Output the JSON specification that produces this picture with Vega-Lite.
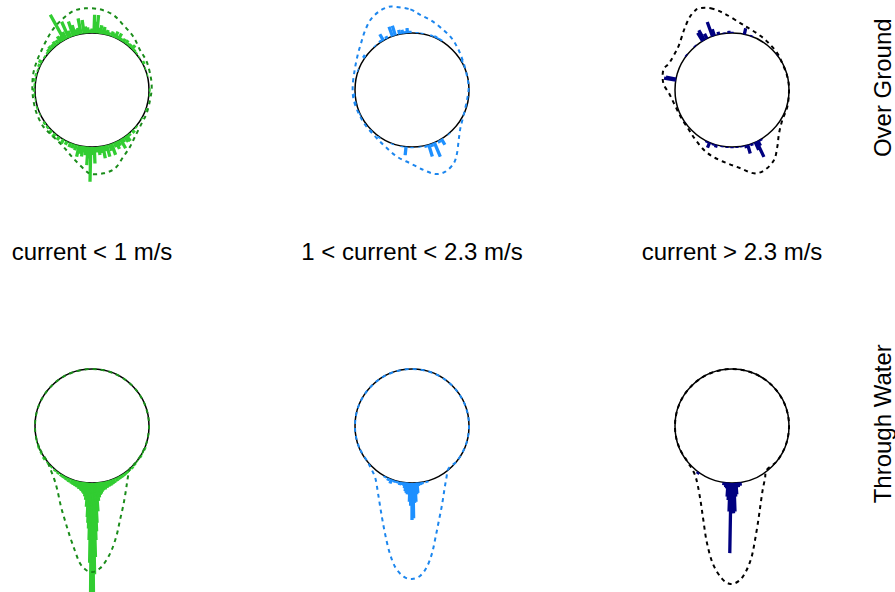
{
  "$schema": "https://vega.github.io/schema/vega-lite/v6.json",
  "padding": 0,
  "background": "white",
  "config": {"view": {"stroke": null}, "font": "Liberation Sans"},
  "data": {"values": [
    {"k":"c","m":"OG","c":"lo"},{"k":"c","m":"OG","c":"mid"},{"k":"c","m":"OG","c":"hi"},
    {"k":"c","m":"TW","c":"lo"},{"k":"c","m":"TW","c":"mid"},{"k":"c","m":"TW","c":"hi"},
    {"k":"t","m":"OG","c":"lo","txt":"current < 1 m/s"},
    {"k":"t","m":"OG","c":"mid","txt":"1 < current < 2.3 m/s"},
    {"k":"t","m":"OG","c":"hi","txt":"current > 2.3 m/s"},
    {"k":"v","m":"OG","c":"hi","txt":"Over Ground"},
    {"k":"v","m":"TW","c":"hi","txt":"Through Water"},

    {"k":"d","m":"OG","c":"lo","i":0,"x":-0.123,"y":1.433},
    {"k":"d","m":"OG","c":"lo","i":1,"x":0.140,"y":1.415},
    {"k":"d","m":"OG","c":"lo","i":2,"x":0.374,"y":1.316},
    {"k":"d","m":"OG","c":"lo","i":3,"x":0.550,"y":1.140},
    {"k":"d","m":"OG","c":"lo","i":4,"x":0.725,"y":0.936},
    {"k":"d","m":"OG","c":"lo","i":5,"x":0.842,"y":0.702},
    {"k":"d","m":"OG","c":"lo","i":6,"x":0.959,"y":0.497},
    {"k":"d","m":"OG","c":"lo","i":7,"x":1.029,"y":0.234},
    {"k":"d","m":"OG","c":"lo","i":8,"x":1.047,"y":0.029},
    {"k":"d","m":"OG","c":"lo","i":9,"x":1.018,"y":-0.175},
    {"k":"d","m":"OG","c":"lo","i":10,"x":0.959,"y":-0.409},
    {"k":"d","m":"OG","c":"lo","i":11,"x":0.871,"y":-0.585},
    {"k":"d","m":"OG","c":"lo","i":12,"x":0.754,"y":-0.819},
    {"k":"d","m":"OG","c":"lo","i":13,"x":0.667,"y":-0.994},
    {"k":"d","m":"OG","c":"lo","i":14,"x":0.550,"y":-1.170},
    {"k":"d","m":"OG","c":"lo","i":15,"x":0.404,"y":-1.374},
    {"k":"d","m":"OG","c":"lo","i":16,"x":0.199,"y":-1.462},
    {"k":"d","m":"OG","c":"lo","i":17,"x":-0.006,"y":-1.474},
    {"k":"d","m":"OG","c":"lo","i":18,"x":-0.123,"y":-1.404},
    {"k":"d","m":"OG","c":"lo","i":19,"x":-0.327,"y":-1.199},
    {"k":"d","m":"OG","c":"lo","i":20,"x":-0.503,"y":-0.994},
    {"k":"d","m":"OG","c":"lo","i":21,"x":-0.678,"y":-0.819},
    {"k":"d","m":"OG","c":"lo","i":22,"x":-0.854,"y":-0.643},
    {"k":"d","m":"OG","c":"lo","i":23,"x":-0.971,"y":-0.409},
    {"k":"d","m":"OG","c":"lo","i":24,"x":-1.029,"y":-0.175},
    {"k":"d","m":"OG","c":"lo","i":25,"x":-1.047,"y":0.058},
    {"k":"d","m":"OG","c":"lo","i":26,"x":-1.029,"y":0.292},
    {"k":"d","m":"OG","c":"lo","i":27,"x":-0.971,"y":0.497},
    {"k":"d","m":"OG","c":"lo","i":28,"x":-0.883,"y":0.702},
    {"k":"d","m":"OG","c":"lo","i":29,"x":-0.766,"y":0.936},
    {"k":"d","m":"OG","c":"lo","i":30,"x":-0.649,"y":1.111},
    {"k":"d","m":"OG","c":"lo","i":31,"x":-0.503,"y":1.257},
    {"k":"d","m":"OG","c":"lo","i":32,"x":-0.327,"y":1.386},

    {"k":"d","m":"OG","c":"mid","i":0,"x":-0.322,"y":1.462},
    {"k":"d","m":"OG","c":"mid","i":1,"x":-0.029,"y":1.415},
    {"k":"d","m":"OG","c":"mid","i":2,"x":0.146,"y":1.316},
    {"k":"d","m":"OG","c":"mid","i":3,"x":0.322,"y":1.228},
    {"k":"d","m":"OG","c":"mid","i":4,"x":0.497,"y":1.099},
    {"k":"d","m":"OG","c":"mid","i":5,"x":0.673,"y":0.936},
    {"k":"d","m":"OG","c":"mid","i":6,"x":0.789,"y":0.760},
    {"k":"d","m":"OG","c":"mid","i":7,"x":0.877,"y":0.556},
    {"k":"d","m":"OG","c":"mid","i":8,"x":0.947,"y":0.322},
    {"k":"d","m":"OG","c":"mid","i":9,"x":0.994,"y":0.058},
    {"k":"d","m":"OG","c":"mid","i":10,"x":0.965,"y":-0.175},
    {"k":"d","m":"OG","c":"mid","i":11,"x":0.906,"y":-0.439},
    {"k":"d","m":"OG","c":"mid","i":12,"x":0.848,"y":-0.673},
    {"k":"d","m":"OG","c":"mid","i":13,"x":0.819,"y":-0.877},
    {"k":"d","m":"OG","c":"mid","i":14,"x":0.789,"y":-1.111},
    {"k":"d","m":"OG","c":"mid","i":15,"x":0.731,"y":-1.287},
    {"k":"d","m":"OG","c":"mid","i":16,"x":0.585,"y":-1.433},
    {"k":"d","m":"OG","c":"mid","i":17,"x":0.409,"y":-1.474},
    {"k":"d","m":"OG","c":"mid","i":18,"x":0.205,"y":-1.404},
    {"k":"d","m":"OG","c":"mid","i":19,"x":-0.029,"y":-1.287},
    {"k":"d","m":"OG","c":"mid","i":20,"x":-0.263,"y":-1.170},
    {"k":"d","m":"OG","c":"mid","i":21,"x":-0.468,"y":-0.994},
    {"k":"d","m":"OG","c":"mid","i":22,"x":-0.643,"y":-0.819},
    {"k":"d","m":"OG","c":"mid","i":23,"x":-0.819,"y":-0.614},
    {"k":"d","m":"OG","c":"mid","i":24,"x":-0.936,"y":-0.409},
    {"k":"d","m":"OG","c":"mid","i":25,"x":-1.023,"y":-0.175},
    {"k":"d","m":"OG","c":"mid","i":26,"x":-1.041,"y":0.058},
    {"k":"d","m":"OG","c":"mid","i":27,"x":-1.006,"y":0.351},
    {"k":"d","m":"OG","c":"mid","i":28,"x":-0.953,"y":0.614},
    {"k":"d","m":"OG","c":"mid","i":29,"x":-0.895,"y":0.819},
    {"k":"d","m":"OG","c":"mid","i":30,"x":-0.830,"y":1.023},
    {"k":"d","m":"OG","c":"mid","i":31,"x":-0.731,"y":1.228},
    {"k":"d","m":"OG","c":"mid","i":32,"x":-0.585,"y":1.374},
    {"k":"d","m":"OG","c":"mid","i":33,"x":-0.439,"y":1.450},

    {"k":"d","m":"OG","c":"hi","i":0,"x":-0.579,"y":1.433},
    {"k":"d","m":"OG","c":"hi","i":1,"x":-0.374,"y":1.433},
    {"k":"d","m":"OG","c":"hi","i":2,"x":-0.140,"y":1.345},
    {"k":"d","m":"OG","c":"hi","i":3,"x":0.152,"y":1.170},
    {"k":"d","m":"OG","c":"hi","i":4,"x":0.327,"y":1.064},
    {"k":"d","m":"OG","c":"hi","i":5,"x":0.503,"y":0.947},
    {"k":"d","m":"OG","c":"hi","i":6,"x":0.649,"y":0.819},
    {"k":"d","m":"OG","c":"hi","i":7,"x":0.795,"y":0.643},
    {"k":"d","m":"OG","c":"hi","i":8,"x":0.883,"y":0.468},
    {"k":"d","m":"OG","c":"hi","i":9,"x":0.971,"y":0.234},
    {"k":"d","m":"OG","c":"hi","i":10,"x":1.000,"y":0.000},
    {"k":"d","m":"OG","c":"hi","i":11,"x":0.971,"y":-0.292},
    {"k":"d","m":"OG","c":"hi","i":12,"x":0.883,"y":-0.526},
    {"k":"d","m":"OG","c":"hi","i":13,"x":0.825,"y":-0.760},
    {"k":"d","m":"OG","c":"hi","i":14,"x":0.795,"y":-0.994},
    {"k":"d","m":"OG","c":"hi","i":15,"x":0.737,"y":-1.228},
    {"k":"d","m":"OG","c":"hi","i":16,"x":0.573,"y":-1.404},
    {"k":"d","m":"OG","c":"hi","i":17,"x":0.386,"y":-1.462},
    {"k":"d","m":"OG","c":"hi","i":18,"x":0.152,"y":-1.374},
    {"k":"d","m":"OG","c":"hi","i":19,"x":-0.082,"y":-1.287},
    {"k":"d","m":"OG","c":"hi","i":20,"x":-0.316,"y":-1.181},
    {"k":"d","m":"OG","c":"hi","i":21,"x":-0.491,"y":-1.053},
    {"k":"d","m":"OG","c":"hi","i":22,"x":-0.637,"y":-0.877},
    {"k":"d","m":"OG","c":"hi","i":23,"x":-0.754,"y":-0.702},
    {"k":"d","m":"OG","c":"hi","i":24,"x":-0.901,"y":-0.468},
    {"k":"d","m":"OG","c":"hi","i":25,"x":-1.018,"y":-0.234},
    {"k":"d","m":"OG","c":"hi","i":26,"x":-1.105,"y":-0.058},
    {"k":"d","m":"OG","c":"hi","i":27,"x":-1.205,"y":0.117},
    {"k":"d","m":"OG","c":"hi","i":28,"x":-1.205,"y":0.351},
    {"k":"d","m":"OG","c":"hi","i":29,"x":-1.105,"y":0.468},
    {"k":"d","m":"OG","c":"hi","i":30,"x":-1.018,"y":0.614},
    {"k":"d","m":"OG","c":"hi","i":31,"x":-0.930,"y":0.789},
    {"k":"d","m":"OG","c":"hi","i":32,"x":-0.842,"y":1.053},
    {"k":"d","m":"OG","c":"hi","i":33,"x":-0.754,"y":1.257},
    {"k":"d","m":"OG","c":"hi","i":34,"x":-0.667,"y":1.374},

    {"k":"d","m":"TW","c":"lo","i":0,"x":-0.788,"y":-0.616},
    {"k":"d","m":"TW","c":"lo","i":1,"x":-0.927,"y":-0.375},
    {"k":"d","m":"TW","c":"lo","i":2,"x":-0.995,"y":-0.105},
    {"k":"d","m":"TW","c":"lo","i":3,"x":-0.985,"y":0.174},
    {"k":"d","m":"TW","c":"lo","i":4,"x":-0.899,"y":0.438},
    {"k":"d","m":"TW","c":"lo","i":5,"x":-0.743,"y":0.669},
    {"k":"d","m":"TW","c":"lo","i":6,"x":-0.530,"y":0.848},
    {"k":"d","m":"TW","c":"lo","i":7,"x":-0.276,"y":0.961},
    {"k":"d","m":"TW","c":"lo","i":8,"x":0.000,"y":1.000},
    {"k":"d","m":"TW","c":"lo","i":9,"x":0.276,"y":0.961},
    {"k":"d","m":"TW","c":"lo","i":10,"x":0.530,"y":0.848},
    {"k":"d","m":"TW","c":"lo","i":11,"x":0.743,"y":0.669},
    {"k":"d","m":"TW","c":"lo","i":12,"x":0.899,"y":0.438},
    {"k":"d","m":"TW","c":"lo","i":13,"x":0.985,"y":0.174},
    {"k":"d","m":"TW","c":"lo","i":14,"x":0.995,"y":-0.105},
    {"k":"d","m":"TW","c":"lo","i":15,"x":0.927,"y":-0.375},
    {"k":"d","m":"TW","c":"lo","i":16,"x":0.788,"y":-0.616},
    {"k":"d","m":"TW","c":"lo","i":17,"x":0.667,"y":-0.743},
    {"k":"d","m":"TW","c":"lo","i":18,"x":0.626,"y":-0.918},
    {"k":"d","m":"TW","c":"lo","i":19,"x":0.596,"y":-1.123},
    {"k":"d","m":"TW","c":"lo","i":20,"x":0.550,"y":-1.386},
    {"k":"d","m":"TW","c":"lo","i":21,"x":0.491,"y":-1.649},
    {"k":"d","m":"TW","c":"lo","i":22,"x":0.433,"y":-1.912},
    {"k":"d","m":"TW","c":"lo","i":23,"x":0.345,"y":-2.175},
    {"k":"d","m":"TW","c":"lo","i":24,"x":0.246,"y":-2.363},
    {"k":"d","m":"TW","c":"lo","i":25,"x":0.140,"y":-2.497},
    {"k":"d","m":"TW","c":"lo","i":26,"x":0.012,"y":-2.561},
    {"k":"d","m":"TW","c":"lo","i":27,"x":-0.105,"y":-2.526},
    {"k":"d","m":"TW","c":"lo","i":28,"x":-0.211,"y":-2.409},
    {"k":"d","m":"TW","c":"lo","i":29,"x":-0.298,"y":-2.193},
    {"k":"d","m":"TW","c":"lo","i":30,"x":-0.386,"y":-1.942},
    {"k":"d","m":"TW","c":"lo","i":31,"x":-0.468,"y":-1.678},
    {"k":"d","m":"TW","c":"lo","i":32,"x":-0.544,"y":-1.415},
    {"k":"d","m":"TW","c":"lo","i":33,"x":-0.608,"y":-1.123},
    {"k":"d","m":"TW","c":"lo","i":34,"x":-0.667,"y":-0.918},
    {"k":"d","m":"TW","c":"lo","i":35,"x":-0.737,"y":-0.743},

    {"k":"d","m":"TW","c":"mid","i":0,"x":-0.788,"y":-0.616},
    {"k":"d","m":"TW","c":"mid","i":1,"x":-0.927,"y":-0.375},
    {"k":"d","m":"TW","c":"mid","i":2,"x":-0.995,"y":-0.105},
    {"k":"d","m":"TW","c":"mid","i":3,"x":-0.985,"y":0.174},
    {"k":"d","m":"TW","c":"mid","i":4,"x":-0.899,"y":0.438},
    {"k":"d","m":"TW","c":"mid","i":5,"x":-0.743,"y":0.669},
    {"k":"d","m":"TW","c":"mid","i":6,"x":-0.530,"y":0.848},
    {"k":"d","m":"TW","c":"mid","i":7,"x":-0.276,"y":0.961},
    {"k":"d","m":"TW","c":"mid","i":8,"x":0.000,"y":1.000},
    {"k":"d","m":"TW","c":"mid","i":9,"x":0.276,"y":0.961},
    {"k":"d","m":"TW","c":"mid","i":10,"x":0.530,"y":0.848},
    {"k":"d","m":"TW","c":"mid","i":11,"x":0.743,"y":0.669},
    {"k":"d","m":"TW","c":"mid","i":12,"x":0.899,"y":0.438},
    {"k":"d","m":"TW","c":"mid","i":13,"x":0.985,"y":0.174},
    {"k":"d","m":"TW","c":"mid","i":14,"x":0.995,"y":-0.105},
    {"k":"d","m":"TW","c":"mid","i":15,"x":0.927,"y":-0.375},
    {"k":"d","m":"TW","c":"mid","i":16,"x":0.788,"y":-0.616},
    {"k":"d","m":"TW","c":"mid","i":17,"x":0.643,"y":-0.743},
    {"k":"d","m":"TW","c":"mid","i":18,"x":0.602,"y":-0.918},
    {"k":"d","m":"TW","c":"mid","i":19,"x":0.567,"y":-1.123},
    {"k":"d","m":"TW","c":"mid","i":20,"x":0.526,"y":-1.386},
    {"k":"d","m":"TW","c":"mid","i":21,"x":0.468,"y":-1.678},
    {"k":"d","m":"TW","c":"mid","i":22,"x":0.409,"y":-1.971},
    {"k":"d","m":"TW","c":"mid","i":23,"x":0.351,"y":-2.234},
    {"k":"d","m":"TW","c":"mid","i":24,"x":0.263,"y":-2.468},
    {"k":"d","m":"TW","c":"mid","i":25,"x":0.146,"y":-2.626},
    {"k":"d","m":"TW","c":"mid","i":26,"x":0.000,"y":-2.684},
    {"k":"d","m":"TW","c":"mid","i":27,"x":-0.146,"y":-2.643},
    {"k":"d","m":"TW","c":"mid","i":28,"x":-0.292,"y":-2.480},
    {"k":"d","m":"TW","c":"mid","i":29,"x":-0.398,"y":-2.205},
    {"k":"d","m":"TW","c":"mid","i":30,"x":-0.480,"y":-1.854},
    {"k":"d","m":"TW","c":"mid","i":31,"x":-0.544,"y":-1.503},
    {"k":"d","m":"TW","c":"mid","i":32,"x":-0.596,"y":-1.181},
    {"k":"d","m":"TW","c":"mid","i":33,"x":-0.643,"y":-0.918},
    {"k":"d","m":"TW","c":"mid","i":34,"x":-0.719,"y":-0.743},

    {"k":"d","m":"TW","c":"hi","i":0,"x":-0.788,"y":-0.616},
    {"k":"d","m":"TW","c":"hi","i":1,"x":-0.927,"y":-0.375},
    {"k":"d","m":"TW","c":"hi","i":2,"x":-0.995,"y":-0.105},
    {"k":"d","m":"TW","c":"hi","i":3,"x":-0.985,"y":0.174},
    {"k":"d","m":"TW","c":"hi","i":4,"x":-0.899,"y":0.438},
    {"k":"d","m":"TW","c":"hi","i":5,"x":-0.743,"y":0.669},
    {"k":"d","m":"TW","c":"hi","i":6,"x":-0.530,"y":0.848},
    {"k":"d","m":"TW","c":"hi","i":7,"x":-0.276,"y":0.961},
    {"k":"d","m":"TW","c":"hi","i":8,"x":0.000,"y":1.000},
    {"k":"d","m":"TW","c":"hi","i":9,"x":0.276,"y":0.961},
    {"k":"d","m":"TW","c":"hi","i":10,"x":0.530,"y":0.848},
    {"k":"d","m":"TW","c":"hi","i":11,"x":0.743,"y":0.669},
    {"k":"d","m":"TW","c":"hi","i":12,"x":0.899,"y":0.438},
    {"k":"d","m":"TW","c":"hi","i":13,"x":0.985,"y":0.174},
    {"k":"d","m":"TW","c":"hi","i":14,"x":0.995,"y":-0.105},
    {"k":"d","m":"TW","c":"hi","i":15,"x":0.927,"y":-0.375},
    {"k":"d","m":"TW","c":"hi","i":16,"x":0.788,"y":-0.616},
    {"k":"d","m":"TW","c":"hi","i":17,"x":0.608,"y":-0.772},
    {"k":"d","m":"TW","c":"hi","i":18,"x":0.579,"y":-0.918},
    {"k":"d","m":"TW","c":"hi","i":19,"x":0.538,"y":-1.123},
    {"k":"d","m":"TW","c":"hi","i":20,"x":0.503,"y":-1.357},
    {"k":"d","m":"TW","c":"hi","i":21,"x":0.462,"y":-1.649},
    {"k":"d","m":"TW","c":"hi","i":22,"x":0.404,"y":-2.000},
    {"k":"d","m":"TW","c":"hi","i":23,"x":0.345,"y":-2.292},
    {"k":"d","m":"TW","c":"hi","i":24,"x":0.257,"y":-2.526},
    {"k":"d","m":"TW","c":"hi","i":25,"x":0.140,"y":-2.702},
    {"k":"d","m":"TW","c":"hi","i":26,"x":-0.023,"y":-2.772},
    {"k":"d","m":"TW","c":"hi","i":27,"x":-0.181,"y":-2.673},
    {"k":"d","m":"TW","c":"hi","i":28,"x":-0.339,"y":-2.409},
    {"k":"d","m":"TW","c":"hi","i":29,"x":-0.444,"y":-2.029},
    {"k":"d","m":"TW","c":"hi","i":30,"x":-0.503,"y":-1.649},
    {"k":"d","m":"TW","c":"hi","i":31,"x":-0.550,"y":-1.327},
    {"k":"d","m":"TW","c":"hi","i":32,"x":-0.602,"y":-1.035},
    {"k":"d","m":"TW","c":"hi","i":33,"x":-0.649,"y":-0.860},
    {"k":"d","m":"TW","c":"hi","i":34,"x":-0.708,"y":-0.743},

    {"k":"s","m":"OG","c":"lo","a":-130,"r":1.03},{"k":"s","m":"OG","c":"lo","a":-125,"r":1.04},
    {"k":"s","m":"OG","c":"lo","a":-115,"r":1.02},{"k":"s","m":"OG","c":"lo","a":-108,"r":1.03},
    {"k":"s","m":"OG","c":"lo","a":-100,"r":1.02},{"k":"s","m":"OG","c":"lo","a":-95,"r":1.03},
    {"k":"s","m":"OG","c":"lo","a":-90,"r":1.04},{"k":"s","m":"OG","c":"lo","a":-85,"r":1.03},
    {"k":"s","m":"OG","c":"lo","a":-80,"r":1.06},{"k":"s","m":"OG","c":"lo","a":-75,"r":1.04},
    {"k":"s","m":"OG","c":"lo","a":-70,"r":1.03},{"k":"s","m":"OG","c":"lo","a":-65,"r":1.05},
    {"k":"s","m":"OG","c":"lo","a":-61,"r":1.07},{"k":"s","m":"OG","c":"lo","a":-55,"r":1.03},
    {"k":"s","m":"OG","c":"lo","a":-50,"r":1.04},{"k":"s","m":"OG","c":"lo","a":-48,"r":1.06},
    {"k":"s","m":"OG","c":"lo","a":-45,"r":1.08},{"k":"s","m":"OG","c":"lo","a":-42,"r":1.07},
    {"k":"s","m":"OG","c":"lo","a":-39,"r":1.09},{"k":"s","m":"OG","c":"lo","a":-36,"r":1.08},
    {"k":"s","m":"OG","c":"lo","a":-33,"r":1.12},{"k":"s","m":"OG","c":"lo","a":-31,"r":1.10},
    {"k":"s","m":"OG","c":"lo","a":-29,"r":1.51},{"k":"s","m":"OG","c":"lo","a":-27,"r":1.14},
    {"k":"s","m":"OG","c":"lo","a":-24,"r":1.31},{"k":"s","m":"OG","c":"lo","a":-22,"r":1.12},
    {"k":"s","m":"OG","c":"lo","a":-19,"r":1.27},{"k":"s","m":"OG","c":"lo","a":-17,"r":1.19},
    {"k":"s","m":"OG","c":"lo","a":-15,"r":1.10},{"k":"s","m":"OG","c":"lo","a":-13,"r":1.12},
    {"k":"s","m":"OG","c":"lo","a":-11,"r":1.28},{"k":"s","m":"OG","c":"lo","a":-8,"r":1.24},
    {"k":"s","m":"OG","c":"lo","a":-6,"r":1.12},{"k":"s","m":"OG","c":"lo","a":-4,"r":1.10},
    {"k":"s","m":"OG","c":"lo","a":-2,"r":1.06},{"k":"s","m":"OG","c":"lo","a":0,"r":1.08},
    {"k":"s","m":"OG","c":"lo","a":2,"r":1.32},{"k":"s","m":"OG","c":"lo","a":3.5,"r":1.20},
    {"k":"s","m":"OG","c":"lo","a":5,"r":1.32},{"k":"s","m":"OG","c":"lo","a":7,"r":1.10},
    {"k":"s","m":"OG","c":"lo","a":8.5,"r":1.15},{"k":"s","m":"OG","c":"lo","a":10,"r":1.08},
    {"k":"s","m":"OG","c":"lo","a":11.6,"r":1.13},{"k":"s","m":"OG","c":"lo","a":13,"r":1.07},
    {"k":"s","m":"OG","c":"lo","a":15,"r":1.09},{"k":"s","m":"OG","c":"lo","a":17,"r":1.06},
    {"k":"s","m":"OG","c":"lo","a":20,"r":1.09},{"k":"s","m":"OG","c":"lo","a":22,"r":1.07},
    {"k":"s","m":"OG","c":"lo","a":24,"r":1.12},{"k":"s","m":"OG","c":"lo","a":26,"r":1.06},
    {"k":"s","m":"OG","c":"lo","a":27.6,"r":1.12},{"k":"s","m":"OG","c":"lo","a":30,"r":1.05},
    {"k":"s","m":"OG","c":"lo","a":33,"r":1.07},{"k":"s","m":"OG","c":"lo","a":36,"r":1.08},
    {"k":"s","m":"OG","c":"lo","a":39,"r":1.05},{"k":"s","m":"OG","c":"lo","a":41,"r":1.06},
    {"k":"s","m":"OG","c":"lo","a":44,"r":1.09},{"k":"s","m":"OG","c":"lo","a":47,"r":1.04},
    {"k":"s","m":"OG","c":"lo","a":50,"r":1.03},{"k":"s","m":"OG","c":"lo","a":55,"r":1.02},
    {"k":"s","m":"OG","c":"lo","a":62,"r":1.05},{"k":"s","m":"OG","c":"lo","a":68,"r":1.02},
    {"k":"s","m":"OG","c":"lo","a":75,"r":1.02},{"k":"s","m":"OG","c":"lo","a":90,"r":1.03},
    {"k":"s","m":"OG","c":"lo","a":95,"r":1.02},{"k":"s","m":"OG","c":"lo","a":110,"r":1.03},
    {"k":"s","m":"OG","c":"lo","a":120,"r":1.02},{"k":"s","m":"OG","c":"lo","a":130,"r":1.03},
    {"k":"s","m":"OG","c":"lo","a":135,"r":1.06},{"k":"s","m":"OG","c":"lo","a":140,"r":1.05},
    {"k":"s","m":"OG","c":"lo","a":143,"r":1.12},{"k":"s","m":"OG","c":"lo","a":145,"r":1.11},
    {"k":"s","m":"OG","c":"lo","a":148,"r":1.08},{"k":"s","m":"OG","c":"lo","a":150,"r":1.18},
    {"k":"s","m":"OG","c":"lo","a":153,"r":1.10},{"k":"s","m":"OG","c":"lo","a":155,"r":1.14},
    {"k":"s","m":"OG","c":"lo","a":157,"r":1.09},{"k":"s","m":"OG","c":"lo","a":160,"r":1.21},
    {"k":"s","m":"OG","c":"lo","a":162,"r":1.12},{"k":"s","m":"OG","c":"lo","a":165,"r":1.21},
    {"k":"s","m":"OG","c":"lo","a":167,"r":1.10},{"k":"s","m":"OG","c":"lo","a":169,"r":1.22},
    {"k":"s","m":"OG","c":"lo","a":171,"r":1.12},{"k":"s","m":"OG","c":"lo","a":173,"r":1.15},
    {"k":"s","m":"OG","c":"lo","a":175,"r":1.10},{"k":"s","m":"OG","c":"lo","a":177.7,"r":1.29},
    {"k":"s","m":"OG","c":"lo","a":179,"r":1.14},{"k":"s","m":"OG","c":"lo","a":181.25,"r":1.61},
    {"k":"s","m":"OG","c":"lo","a":183,"r":1.20},{"k":"s","m":"OG","c":"lo","a":184,"r":1.32},
    {"k":"s","m":"OG","c":"lo","a":186,"r":1.15},{"k":"s","m":"OG","c":"lo","a":187.5,"r":1.10},
    {"k":"s","m":"OG","c":"lo","a":189,"r":1.18},{"k":"s","m":"OG","c":"lo","a":191,"r":1.14},
    {"k":"s","m":"OG","c":"lo","a":193,"r":1.20},{"k":"s","m":"OG","c":"lo","a":196,"r":1.10},
    {"k":"s","m":"OG","c":"lo","a":199,"r":1.08},{"k":"s","m":"OG","c":"lo","a":202,"r":1.08},
    {"k":"s","m":"OG","c":"lo","a":206,"r":1.07},{"k":"s","m":"OG","c":"lo","a":210,"r":1.08},
    {"k":"s","m":"OG","c":"lo","a":215,"r":1.07},{"k":"s","m":"OG","c":"lo","a":220,"r":1.08},
    {"k":"s","m":"OG","c":"lo","a":225,"r":1.06},{"k":"s","m":"OG","c":"lo","a":230,"r":1.04},
    {"k":"s","m":"OG","c":"lo","a":235,"r":1.03},

    {"k":"s","m":"OG","c":"mid","a":-115,"r":1.02},{"k":"s","m":"OG","c":"mid","a":-103,"r":1.04},
    {"k":"s","m":"OG","c":"mid","a":-95,"r":1.03},{"k":"s","m":"OG","c":"mid","a":-70,"r":1.02},
    {"k":"s","m":"OG","c":"mid","a":-55,"r":1.05},{"k":"s","m":"OG","c":"mid","a":-40,"r":1.02},
    {"k":"s","m":"OG","c":"mid","a":-33,"r":1.04},{"k":"s","m":"OG","c":"mid","a":-30,"r":1.13},
    {"k":"s","m":"OG","c":"mid","a":-26,"r":1.05},{"k":"s","m":"OG","c":"mid","a":-20,"r":1.18},
    {"k":"s","m":"OG","c":"mid","a":-17,"r":1.18},{"k":"s","m":"OG","c":"mid","a":-12.5,"r":1.08},
    {"k":"s","m":"OG","c":"mid","a":-9.5,"r":1.07},{"k":"s","m":"OG","c":"mid","a":-7,"r":1.04},
    {"k":"s","m":"OG","c":"mid","a":-4.6,"r":1.09},{"k":"s","m":"OG","c":"mid","a":-2,"r":1.04},
    {"k":"s","m":"OG","c":"mid","a":5,"r":1.02},{"k":"s","m":"OG","c":"mid","a":10,"r":1.02},
    {"k":"s","m":"OG","c":"mid","a":20,"r":1.03},{"k":"s","m":"OG","c":"mid","a":24,"r":1.04},
    {"k":"s","m":"OG","c":"mid","a":27,"r":1.03},{"k":"s","m":"OG","c":"mid","a":30,"r":1.03},
    {"k":"s","m":"OG","c":"mid","a":60,"r":1.03},{"k":"s","m":"OG","c":"mid","a":140,"r":1.02},
    {"k":"s","m":"OG","c":"mid","a":149,"r":1.12},{"k":"s","m":"OG","c":"mid","a":152,"r":1.05},
    {"k":"s","m":"OG","c":"mid","a":157,"r":1.27},{"k":"s","m":"OG","c":"mid","a":160,"r":1.06},
    {"k":"s","m":"OG","c":"mid","a":163,"r":1.22},{"k":"s","m":"OG","c":"mid","a":166,"r":1.04},
    {"k":"s","m":"OG","c":"mid","a":172,"r":1.02},{"k":"s","m":"OG","c":"mid","a":180,"r":1.02},
    {"k":"s","m":"OG","c":"mid","a":186,"r":1.15},{"k":"s","m":"OG","c":"mid","a":190,"r":1.02},
    {"k":"s","m":"OG","c":"mid","a":200,"r":1.02},{"k":"s","m":"OG","c":"mid","a":215,"r":1.03},
    {"k":"s","m":"OG","c":"mid","a":225,"r":1.02},

    {"k":"s","m":"OG","c":"hi","a":-80,"r":1.21},{"k":"s","m":"OG","c":"hi","a":-79,"r":1.18},
    {"k":"s","m":"OG","c":"hi","a":-53,"r":1.02},{"k":"s","m":"OG","c":"hi","a":-40,"r":1.02},
    {"k":"s","m":"OG","c":"hi","a":-31,"r":1.17},{"k":"s","m":"OG","c":"hi","a":-29,"r":1.20},
    {"k":"s","m":"OG","c":"hi","a":-26,"r":1.10},{"k":"s","m":"OG","c":"hi","a":-20,"r":1.27},
    {"k":"s","m":"OG","c":"hi","a":-18,"r":1.12},{"k":"s","m":"OG","c":"hi","a":-13.5,"r":1.05},
    {"k":"s","m":"OG","c":"hi","a":-8,"r":1.02},{"k":"s","m":"OG","c":"hi","a":-3,"r":1.04},
    {"k":"s","m":"OG","c":"hi","a":0,"r":1.02},{"k":"s","m":"OG","c":"hi","a":12.5,"r":1.11},
    {"k":"s","m":"OG","c":"hi","a":20,"r":1.02},{"k":"s","m":"OG","c":"hi","a":52,"r":1.02},
    {"k":"s","m":"OG","c":"hi","a":150,"r":1.03},{"k":"s","m":"OG","c":"hi","a":153,"r":1.10},
    {"k":"s","m":"OG","c":"hi","a":154.5,"r":1.30},{"k":"s","m":"OG","c":"hi","a":156,"r":1.15},
    {"k":"s","m":"OG","c":"hi","a":160,"r":1.04},{"k":"s","m":"OG","c":"hi","a":164,"r":1.16},
    {"k":"s","m":"OG","c":"hi","a":166,"r":1.05},{"k":"s","m":"OG","c":"hi","a":170,"r":1.02},
    {"k":"s","m":"OG","c":"hi","a":175,"r":1.02},{"k":"s","m":"OG","c":"hi","a":180,"r":1.02},
    {"k":"s","m":"OG","c":"hi","a":185,"r":1.02},{"k":"s","m":"OG","c":"hi","a":190,"r":1.02},
    {"k":"s","m":"OG","c":"hi","a":196,"r":1.05},{"k":"s","m":"OG","c":"hi","a":199,"r":1.03},
    {"k":"s","m":"OG","c":"hi","a":203,"r":1.10},{"k":"s","m":"OG","c":"hi","a":206,"r":1.03},
    {"k":"s","m":"OG","c":"hi","a":235,"r":1.02},

    {"k":"s","m":"TW","c":"lo","a":113,"r":1.03},{"k":"s","m":"TW","c":"lo","a":118,"r":1.02},
    {"k":"s","m":"TW","c":"lo","a":122,"r":1.03},{"k":"s","m":"TW","c":"lo","a":128,"r":1.02},
    {"k":"s","m":"TW","c":"lo","a":132,"r":1.03},{"k":"s","m":"TW","c":"lo","a":136,"r":1.04},
    {"k":"s","m":"TW","c":"lo","a":140,"r":1.035},{"k":"s","m":"TW","c":"lo","a":143,"r":1.045},
    {"k":"s","m":"TW","c":"lo","a":146,"r":1.05},{"k":"s","m":"TW","c":"lo","a":149,"r":1.055},
    {"k":"s","m":"TW","c":"lo","a":152,"r":1.06},{"k":"s","m":"TW","c":"lo","a":155,"r":1.07},
    {"k":"s","m":"TW","c":"lo","a":158,"r":1.08},{"k":"s","m":"TW","c":"lo","a":160,"r":1.09},
    {"k":"s","m":"TW","c":"lo","a":162,"r":1.10},{"k":"s","m":"TW","c":"lo","a":164,"r":1.11},
    {"k":"s","m":"TW","c":"lo","a":166,"r":1.12},{"k":"s","m":"TW","c":"lo","a":168,"r":1.14},
    {"k":"s","m":"TW","c":"lo","a":170,"r":1.15},{"k":"s","m":"TW","c":"lo","a":171,"r":1.17},
    {"k":"s","m":"TW","c":"lo","a":172,"r":1.20},{"k":"s","m":"TW","c":"lo","a":173,"r":1.22},
    {"k":"s","m":"TW","c":"lo","a":174,"r":1.26},{"k":"s","m":"TW","c":"lo","a":175,"r":1.32},
    {"k":"s","m":"TW","c":"lo","a":176,"r":1.50},{"k":"s","m":"TW","c":"lo","a":177,"r":1.70},
    {"k":"s","m":"TW","c":"lo","a":177.5,"r":1.85},{"k":"s","m":"TW","c":"lo","a":178,"r":2.00},
    {"k":"s","m":"TW","c":"lo","a":178.5,"r":2.30},{"k":"s","m":"TW","c":"lo","a":179,"r":2.60},
    {"k":"s","m":"TW","c":"lo","a":179.5,"r":3.40},{"k":"s","m":"TW","c":"lo","a":180,"r":3.40},
    {"k":"s","m":"TW","c":"lo","a":180.5,"r":3.40},{"k":"s","m":"TW","c":"lo","a":181,"r":2.40},
    {"k":"s","m":"TW","c":"lo","a":181.5,"r":2.00},{"k":"s","m":"TW","c":"lo","a":182,"r":1.80},
    {"k":"s","m":"TW","c":"lo","a":182.5,"r":1.70},{"k":"s","m":"TW","c":"lo","a":183,"r":1.60},
    {"k":"s","m":"TW","c":"lo","a":184,"r":1.42},{"k":"s","m":"TW","c":"lo","a":185,"r":1.30},
    {"k":"s","m":"TW","c":"lo","a":186,"r":1.24},{"k":"s","m":"TW","c":"lo","a":187,"r":1.20},
    {"k":"s","m":"TW","c":"lo","a":188,"r":1.18},{"k":"s","m":"TW","c":"lo","a":189,"r":1.16},
    {"k":"s","m":"TW","c":"lo","a":190,"r":1.15},{"k":"s","m":"TW","c":"lo","a":192,"r":1.13},
    {"k":"s","m":"TW","c":"lo","a":194,"r":1.11},{"k":"s","m":"TW","c":"lo","a":196,"r":1.10},
    {"k":"s","m":"TW","c":"lo","a":198,"r":1.09},{"k":"s","m":"TW","c":"lo","a":200,"r":1.08},
    {"k":"s","m":"TW","c":"lo","a":203,"r":1.07},{"k":"s","m":"TW","c":"lo","a":206,"r":1.06},
    {"k":"s","m":"TW","c":"lo","a":209,"r":1.05},{"k":"s","m":"TW","c":"lo","a":212,"r":1.045},
    {"k":"s","m":"TW","c":"lo","a":216,"r":1.04},{"k":"s","m":"TW","c":"lo","a":220,"r":1.035},
    {"k":"s","m":"TW","c":"lo","a":225,"r":1.03},{"k":"s","m":"TW","c":"lo","a":230,"r":1.03},
    {"k":"s","m":"TW","c":"lo","a":236,"r":1.04},{"k":"s","m":"TW","c":"lo","a":242,"r":1.03},
    {"k":"s","m":"TW","c":"lo","a":248,"r":1.03},{"k":"s","m":"TW","c":"lo","a":255,"r":1.02},

    {"k":"s","m":"TW","c":"mid","a":165,"r":1.03},{"k":"s","m":"TW","c":"mid","a":170,"r":1.04},
    {"k":"s","m":"TW","c":"mid","a":172,"r":1.05},{"k":"s","m":"TW","c":"mid","a":174,"r":1.06},
    {"k":"s","m":"TW","c":"mid","a":175,"r":1.18},{"k":"s","m":"TW","c":"mid","a":176,"r":1.20},
    {"k":"s","m":"TW","c":"mid","a":177,"r":1.33},{"k":"s","m":"TW","c":"mid","a":178,"r":1.35},
    {"k":"s","m":"TW","c":"mid","a":179,"r":1.62},{"k":"s","m":"TW","c":"mid","a":180,"r":1.65},
    {"k":"s","m":"TW","c":"mid","a":181,"r":1.40},{"k":"s","m":"TW","c":"mid","a":182,"r":1.33},
    {"k":"s","m":"TW","c":"mid","a":183,"r":1.20},{"k":"s","m":"TW","c":"mid","a":184,"r":1.20},
    {"k":"s","m":"TW","c":"mid","a":185,"r":1.18},{"k":"s","m":"TW","c":"mid","a":186,"r":1.15},
    {"k":"s","m":"TW","c":"mid","a":187,"r":1.10},{"k":"s","m":"TW","c":"mid","a":188,"r":1.06},
    {"k":"s","m":"TW","c":"mid","a":190,"r":1.05},{"k":"s","m":"TW","c":"mid","a":192,"r":1.06},
    {"k":"s","m":"TW","c":"mid","a":195,"r":1.04},{"k":"s","m":"TW","c":"mid","a":198,"r":1.04},
    {"k":"s","m":"TW","c":"mid","a":201,"r":1.08},{"k":"s","m":"TW","c":"mid","a":204,"r":1.05},
    {"k":"s","m":"TW","c":"mid","a":208,"r":1.03},

    {"k":"s","m":"TW","c":"hi","a":172,"r":1.06},{"k":"s","m":"TW","c":"hi","a":174,"r":1.08},
    {"k":"s","m":"TW","c":"hi","a":176,"r":1.20},{"k":"s","m":"TW","c":"hi","a":177,"r":1.24},
    {"k":"s","m":"TW","c":"hi","a":178,"r":1.50},{"k":"s","m":"TW","c":"hi","a":179,"r":1.53},
    {"k":"s","m":"TW","c":"hi","a":180,"r":1.53},{"k":"s","m":"TW","c":"hi","a":181,"r":2.23},
    {"k":"s","m":"TW","c":"hi","a":182,"r":1.50},{"k":"s","m":"TW","c":"hi","a":183,"r":1.30},
    {"k":"s","m":"TW","c":"hi","a":184,"r":1.24},{"k":"s","m":"TW","c":"hi","a":185,"r":1.10},
    {"k":"s","m":"TW","c":"hi","a":186,"r":1.08},{"k":"s","m":"TW","c":"hi","a":188,"r":1.05},
    {"k":"s","m":"TW","c":"hi","a":216,"r":1.04}
  ]},
  "facet": {
    "row": {"field": "m", "type": "nominal", "sort": ["OG", "TW"], "header": null},
    "column": {"field": "c", "type": "nominal", "sort": ["lo", "mid", "hi"], "header": null}
  },
  "spacing": {"row": 80, "column": 60},
  "bounds": "flush",
  "spec": {
    "width": 260,
    "height": 256,
    "layer": [
      {
        "transform": [{"filter": "datum.k === 'c'"}],
        "mark": {"type": "arc", "filled": false, "stroke": "black", "strokeWidth": 1.5},
        "encoding": {
          "x": {"datum": 0, "type": "quantitative", "scale": {"domain": [-1.614, 2.947], "nice": false, "zero": false}, "axis": null},
          "y": {"datum": 0, "type": "quantitative", "scale": {"domain": [-2.912, 1.579], "nice": false, "zero": false}, "axis": null},
          "theta": {"datum": 0, "type": "quantitative", "scale": {"type": "linear", "domain": [0, 360], "range": [0, 6.283185307179586]}},
          "theta2": {"datum": 360},
          "radius": {"datum": 1, "type": "quantitative", "scale": {"type": "linear", "domain": [0, 1], "range": [0, 57], "zero": true}},
          "radius2": {"datum": 1}
        }
      },
      {
        "transform": [{"filter": "datum.k === 's'"}],
        "mark": {"type": "arc", "filled": false, "strokeWidth": 3.3, "clip": true},
        "encoding": {
          "x": {"datum": 0, "type": "quantitative"},
          "y": {"datum": 0, "type": "quantitative"},
          "theta": {"field": "a", "type": "quantitative", "stack": null},
          "theta2": {"field": "a"},
          "radius": {"field": "r", "type": "quantitative"},
          "radius2": {"datum": 1},
          "stroke": {"field": "c", "type": "nominal", "scale": {"domain": ["lo", "mid", "hi"], "range": ["#32CD32", "#1E90FF", "#000080"]}, "legend": null}
        }
      },
      {
        "transform": [{"filter": "datum.k === 'd'"}],
        "mark": {"type": "line", "strokeWidth": 2, "strokeDash": [4, 4], "interpolate": "cardinal-closed"},
        "encoding": {
          "x": {"field": "x", "type": "quantitative"},
          "y": {"field": "y", "type": "quantitative"},
          "order": {"field": "i", "type": "quantitative"},
          "color": {"field": "c", "type": "nominal", "scale": {"domain": ["lo", "mid", "hi"], "range": ["#1A8C1A", "#1C86EE", "#000000"]}, "legend": null}
        }
      },
      {
        "transform": [{"filter": "datum.k === 't'"}],
        "mark": {"type": "text", "fontSize": 24, "font": "Liberation Sans", "align": "center", "baseline": "alphabetic", "color": "black"},
        "encoding": {
          "x": {"datum": 0, "type": "quantitative"},
          "y": {"datum": -2.982, "type": "quantitative"},
          "text": {"field": "txt"}
        }
      },
      {
        "transform": [{"filter": "datum.k === 'v'"}],
        "mark": {"type": "text", "fontSize": 24, "font": "Liberation Sans", "align": "center", "baseline": "alphabetic", "angle": 270, "color": "black"},
        "encoding": {
          "x": {"datum": 2.79, "type": "quantitative"},
          "y": {"datum": 0.04, "type": "quantitative"},
          "text": {"field": "txt"}
        }
      }
    ]
  }
}
